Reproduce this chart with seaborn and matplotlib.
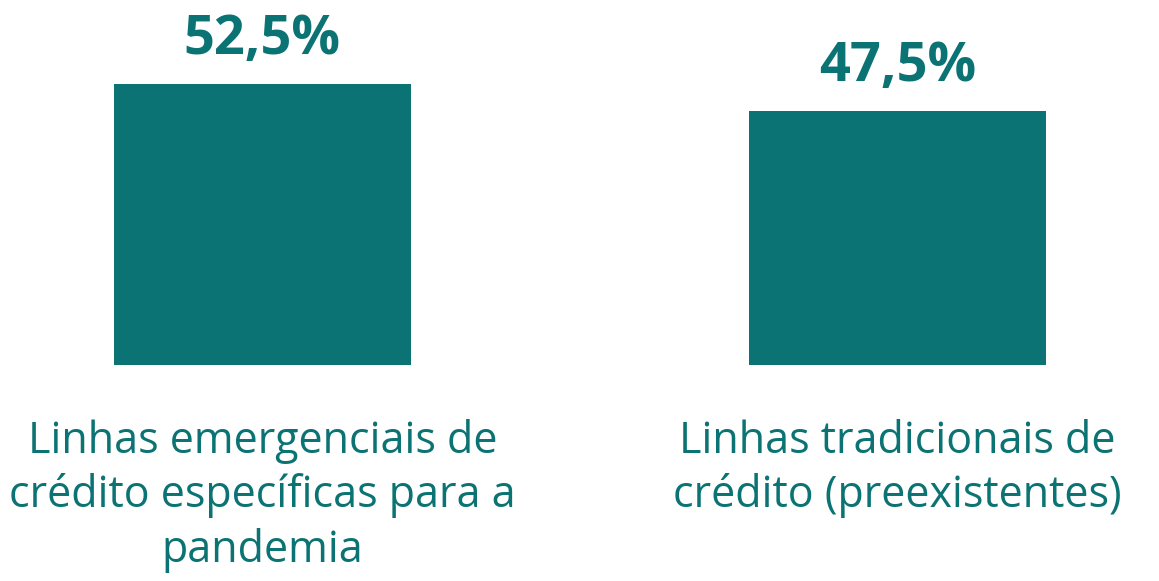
import matplotlib

matplotlib.use("Agg")
import matplotlib.pyplot as plt
import pandas as pd
import seaborn as sns

categories = [
    "Linhas emergenciais de\ncrédito específicas para a\npandemia",
    "Linhas tradicionais de\ncrédito (preexistentes)",
]
shares = [52.5, 47.5]
value_labels = ["52,5%", "47,5%"]

TEAL = "#0b7373"

sns.set_theme(style="white")
plt.rcParams["font.family"] = ["Open Sans", "DejaVu Sans"]

df = pd.DataFrame({"categoria": categories, "share": shares})

fig = plt.figure(figsize=(11.59, 5.81), dpi=100)
ax = fig.add_axes([0, 216 / 581, 1, 365 / 581])
sns.barplot(data=df, x="categoria", y="share", color=TEAL, saturation=1,
            width=0.468, linewidth=0, ax=ax)
ax.set_xlim(-0.413, 1.412)
ax.set_ylim(0, 68.2)

ax.bar_label(ax.containers[0], labels=value_labels, padding=12,
             fontsize=39, fontweight="bold", color=TEAL)

ax.set(xlabel="", ylabel="", yticks=[])
ax.tick_params(axis="x", length=0, pad=39, labelsize=31, labelcolor=TEAL)
for t in ax.get_xticklabels():
    t.set_linespacing(1.27)
sns.despine(ax=ax, left=True, bottom=True)

fig.savefig("out.png", dpi=100)
